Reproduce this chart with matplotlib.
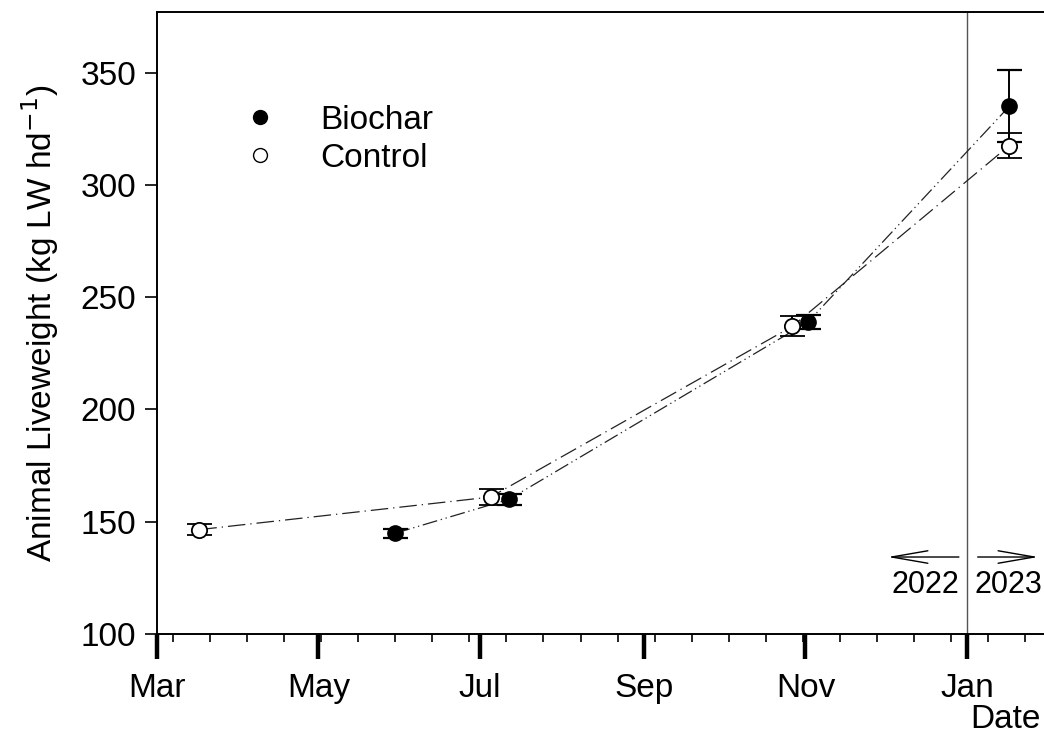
import matplotlib
matplotlib.use("Agg")
import matplotlib.pyplot as plt
import matplotlib.dates as mdates
import matplotlib.ticker as mticker
import pandas as pd

plt.rcParams['font.family'] = ['Liberation Sans', 'DejaVu Sans']
FS = 24

# liveweight samplings
biochar_dates = pd.to_datetime(["2022-05-30", "2022-07-12", "2022-11-02", "2023-01-17"])
biochar_lw = [144.9, 160.0, 239.0, 335.0]
biochar_err = [2.0, 2.5, 3.0, 16.0]

control_dates = pd.to_datetime(["2022-03-17", "2022-07-05", "2022-10-27", "2023-01-17"])
control_lw = [146.5, 161.0, 237.0, 317.5]
control_err = [2.5, 3.5, 4.5, 5.5]

month_ticks = pd.date_range("2022-03-01", "2023-01-01", freq="2MS")
fortnight_ticks = pd.date_range("2022-03-07", "2023-02-01", freq="14D")

fig = plt.figure(figsize=(10.44, 7.44), dpi=100)
ax = fig.add_axes([0.1504, 0.1478, 0.8544, 0.8361])

ax.errorbar(biochar_dates, biochar_lw, yerr=biochar_err, fmt='o', color='black',
            markersize=11, markerfacecolor='black', markeredgecolor='black',
            ecolor='black', elinewidth=1.4, capsize=9, capthick=1.6, zorder=4)
ax.errorbar(control_dates, control_lw, yerr=control_err, fmt='o', color='black',
            markersize=11, markerfacecolor='white', markeredgecolor='black',
            markeredgewidth=1.3, ecolor='black', elinewidth=1.4, capsize=9,
            capthick=1.6, zorder=4)

ax.plot(biochar_dates, biochar_lw, color='#222222', lw=0.9,
        dashes=[12, 3, 1, 3, 1, 3], zorder=3)
ax.plot(control_dates, control_lw, color='#222222', lw=0.9,
        dashes=[14, 4, 1, 4], zorder=3)

# legend entries
h1, = ax.plot([], [], 'o', color='black', markersize=10, label='Biochar')
h2, = ax.plot([], [], 'o', markerfacecolor='white', markeredgecolor='black',
              markersize=10, label='Control')
ax.legend(handles=[h1, h2], loc='upper left', bbox_to_anchor=(0.063, 0.899),
          frameon=False, fontsize=FS, handletextpad=1.3, labelspacing=0.22,
          handlelength=1.0)

# year boundary
ax.axvline(pd.Timestamp("2023-01-01"), color='#555555', lw=1.0, zorder=1)
arrow = dict(arrowstyle='->, head_length=2.6, head_width=0.45', lw=1.0, color='black')
ax.annotate("", xy=(pd.Timestamp("2022-12-01"), 134.3),
            xytext=(pd.Timestamp("2022-12-30"), 134.3), arrowprops=arrow)
ax.annotate("", xy=(pd.Timestamp("2023-01-29"), 134.3),
            xytext=(pd.Timestamp("2023-01-04"), 134.3), arrowprops=arrow)
ax.text(pd.Timestamp("2022-12-29"), 122, "2022", ha='right', va='center', fontsize=22)
ax.text(pd.Timestamp("2023-01-04"), 122, "2023", ha='left', va='center', fontsize=22)

ax.set_xlim(pd.Timestamp("2022-03-01"), pd.Timestamp("2023-02-01"))
ax.set_ylim(100, 377)

ax.xaxis.set_major_locator(mticker.FixedLocator(mdates.date2num(month_ticks)))
ax.xaxis.set_major_formatter(mdates.DateFormatter("%b"))
ax.xaxis.set_minor_locator(mticker.FixedLocator(mdates.date2num(fortnight_ticks)))
ax.yaxis.set_major_locator(mticker.MultipleLocator(50))

ax.tick_params(axis='x', which='major', direction='out', length=18, width=3.2,
               labelsize=FS, pad=10)
ax.tick_params(axis='x', which='minor', direction='out', length=6, width=1.2)
ax.tick_params(axis='y', which='major', direction='out', length=9, width=1.2,
               labelsize=FS, pad=6)

for side in ['left', 'bottom', 'top']:
    ax.spines[side].set_linewidth(1.4)
ax.spines['right'].set_visible(False)

ax.set_ylabel("Animal Liveweight (kg LW hd$^{-1}$)", fontsize=FS, labelpad=14)
fig.text(0.963, 0.033, "Date", ha='center', va='center', fontsize=FS)

fig.savefig("out.png", dpi=100)
